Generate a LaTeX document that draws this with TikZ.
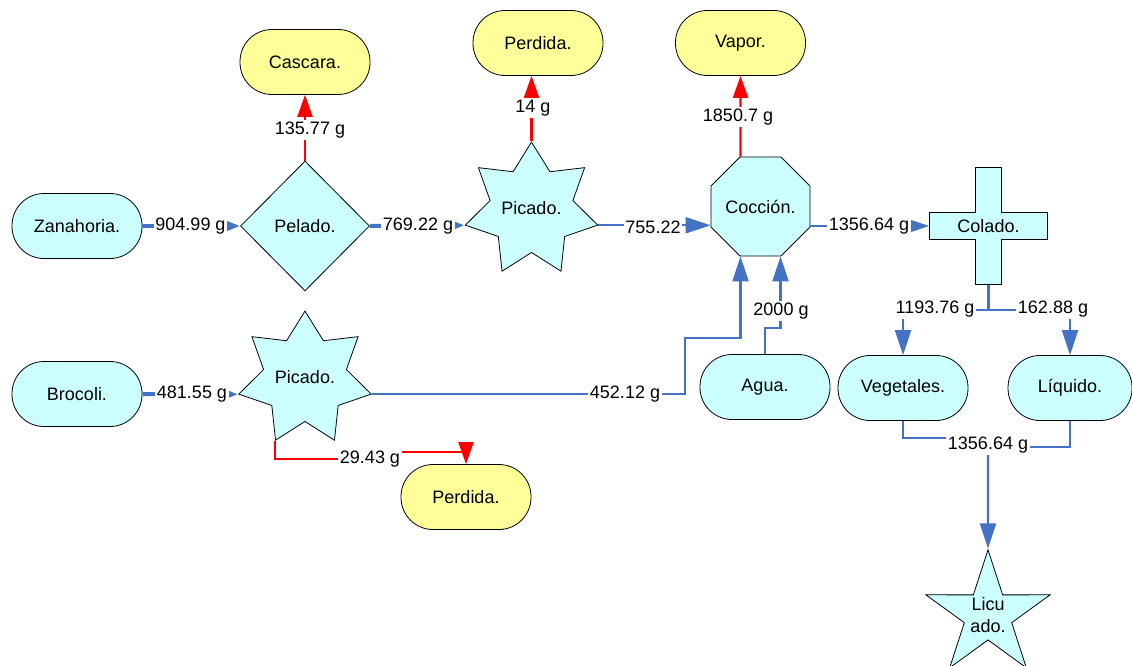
\documentclass[tikz,border=0pt]{standalone}
\usepackage{fontspec}
\setmainfont{Liberation Sans}
\usetikzlibrary{shapes.geometric,arrows.meta,calc}
\definecolor{nodecyan}{HTML}{CCFFFF}
\definecolor{nodeyel}{HTML}{FFFF99}
\definecolor{flowblue}{HTML}{4472C4}
\definecolor{flowred}{HTML}{FF0000}
\begin{document}
\begin{tikzpicture}[x=1pt,y=-1pt,font=\fontsize{18}{22}\selectfont,
  outl/.style={draw=black,line width=0.8pt},
  stadium/.style={outl,rectangle,rounded corners=32pt,minimum width=130pt,minimum height=65pt,inner sep=0pt},
  cyanbox/.style={stadium,fill=nodecyan},
  yelbox/.style={stadium,fill=nodeyel},
  diam/.style={outl,fill=nodecyan,diamond,aspect=1,minimum width=129pt,minimum height=130pt,inner sep=0pt},
  star7/.style={outl,fill=nodecyan,star,star points=7,star point ratio=1.6,minimum size=134pt,inner sep=0pt},
  star5/.style={outl,fill=nodecyan,star,star points=5,star point ratio=2.62,minimum size=129pt,inner sep=0pt,align=center},
  octo/.style={outl,fill=nodecyan,regular polygon,regular polygon sides=8,minimum size=105pt,inner sep=0pt},
  helper/.style={inner sep=0pt},
  lbl/.style={fill=white,inner sep=1.5pt},
  bflow/.style={draw=flowblue,line width=2.2pt},
  bthick/.style={draw=flowblue,line width=4pt},
  rflow/.style={draw=flowred,line width=2.2pt},
  bbig/.style={-{Triangle[length=25pt,width=16pt]}},
  bsmall/.style={-{Triangle[length=13pt,width=9pt]}},
  rbig/.style={-{Triangle[length=22pt,width=15pt]}}]
\useasboundingbox (0,0) rectangle (1132,666);
\clip (0,0) rectangle (1132,666);

% nodes
\node[cyanbox] (zan) at (77,226) {Zanahoria.};
\node[cyanbox] (bro) at (77,394) {Brocoli.};
\node[diam] (pel) at (305,226) {Pelado.};
\node[star7] (pic1) at (531.5,210) {\raisebox{5pt}{Picado.}};
\node[star7] (pic2) at (305,379) {\raisebox{5pt}{Picado.}};
\node[octo] (coc) at (760.5,206.5) {Cocción.};
\node[yelbox] (cas) at (305,62) {Cascara.};
\node[yelbox] (per1) at (538,43) {Perdida.};
\node[yelbox] (vap) at (740.5,43) {Vapor.};
\node[yelbox] (per2) at (466,497) {Perdida.};
\node[cyanbox] (agua) at (765,387) {Agua.};
\node[cyanbox] (veg) at (903,388) {Vegetales.};
\node[cyanbox,minimum width=124pt] (liq) at (1070,388) {Líquido.};
\node[star5] (lic) at (988,615) {Licu\\ado.};

% cross (Colado.)
\node[helper,minimum width=118pt,minimum height=26pt] (colh) at (988.5,226) {};
\node[helper,minimum width=25pt,minimum height=117pt] (colv) at (988.5,226) {};
\filldraw[outl,fill=nodecyan] (colv.north west) -- (colv.north east) -- (colv.east |- colh.north)
  -- (colh.north east) -- (colh.south east) -- (colv.east |- colh.south) -- (colv.south east)
  -- (colv.south west) -- (colv.west |- colh.south) -- (colh.south west) -- (colh.north west)
  -- (colv.west |- colh.north) -- cycle;
\node (colado) at (colh) {Colado.};

\coordinate (mix) at (988,447);

% blue connectors
\draw[bthick,bsmall] (zan.east) -- (pel.west);
\draw[bthick,bsmall] (pel.east) -- (pic1.outer point 3);
\draw[bthick,bsmall] (bro.east) -- (pic2.outer point 3);
\draw[bflow,bbig] (pic1.outer point 6) -- (pic1.outer point 6 -| coc.west);
\draw[bflow,bbig] (coc.east |- colh.west) -- (colh.west);
\draw[bflow,bbig] (pic2.outer point 6) -- ++(313,0) -- ++(0,-56) -| ($(coc.south)+(-20,0)$);
\draw[bflow,bbig] (agua.north) -- ++(0,-26) -| ($(coc.south)+(20,0)$);
\draw[bflow,bbig] (colv.south) -- ++(0,25) -| (veg.north);
\draw[bflow,bbig] (colv.south) -- ++(0,25) -| (liq.north);
\draw[bflow] (veg.south) -- ++(0,17) -| (mix);
\draw[bflow] (liq.south) |- (mix);
\draw[bflow,bbig] (mix) -- (lic.north);

% red connectors
\draw[rflow,rbig] (pel.north) -- (cas.south);
\draw[rflow,rbig] (pic1.north) -- (pic1.north |- per1.south);
\draw[rflow,rbig] ($(coc.north)+(-20,0)$) -- (vap.south);
\draw[rflow,rbig] (pic2.outer point 4) -- ++(0,18) -- ++(95,0) -- ++(0,-7) -| (per2.north);

% labels
\node[lbl] (l1) at (190.5,226) {904.99 g};
\node[lbl] (l2) at (418,226) {769.22 g};
\node[lbl] (l3) at (653,227) {755.22};
\node[lbl] (l4) at (869,226) {1356.64 g};
\node[lbl] (l5) at (192,394) {481.55 g};
\node[lbl] (l6) at (625,394) {452.12 g};
\node[lbl] (l7) at (781,311) {2000 g};
\node[lbl] (l8) at (935,309) {1193.76 g};
\node[lbl] (l9) at (1053,309) {162.88 g};
\node[lbl] (l10) at (988,445) {1356.64 g};
\node[lbl] (l11) at (310,130) {135.77 g};
\node[lbl] (l12) at (533,108) {14 g};
\node[lbl] (l13) at (738,117) {1850.7 g};
\node[lbl] (l14) at (370,459) {29.43 g};
\end{tikzpicture}
\end{document}
